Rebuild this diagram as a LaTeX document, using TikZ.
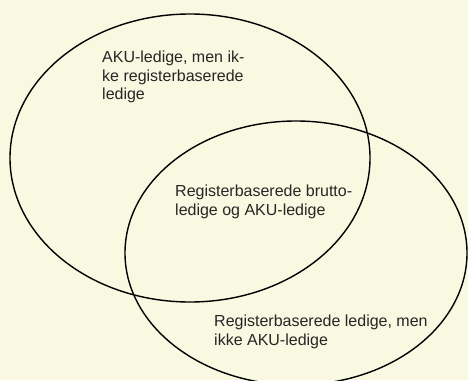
\documentclass[tikz,border=0pt]{standalone}
\usepackage{fontspec}
\setmainfont{Liberation Sans}
\usepackage{tikz}
\usetikzlibrary{positioning}
\definecolor{bgcream}{RGB}{249,248,225}
\tikzset{
  settext/.style={anchor=north west,inner sep=0pt,align=left,
    font=\fontsize{16pt}{18.3pt}\selectfont,text=black!85}
}

\begin{document}
\begin{tikzpicture}[x=1pt,y=-1pt]
            \useasboundingbox (0,0) rectangle (468,380);
            \fill[bgcream] (0,0) rectangle (468,380);
            \draw[line width=1.4pt] (190,158) ellipse (180 and 144);
            \draw[line width=1.4pt] (296,253) ellipse (171 and 132);
            \node[settext] (akuonly) at (102,51) {AKU-ledige, men ik-\\ke registerbaserede\\ledige};
            \node[settext] (both) at (175,185) {Registerbaserede brutto-\\ledige og AKU-ledige};
            \node[settext] (regonly) at (214,315) {Registerbaserede ledige, men\\ikke AKU-ledige};
        \end{tikzpicture}
\end{document}
